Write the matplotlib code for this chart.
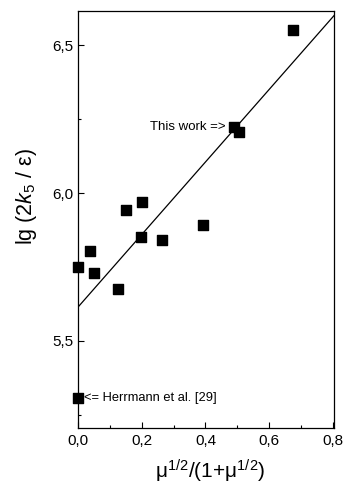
import matplotlib
matplotlib.use("Agg")
import matplotlib.pyplot as plt
from matplotlib.ticker import MultipleLocator, FuncFormatter

plt.rcParams['font.family'] = ['Liberation Sans', 'DejaVu Sans']
plt.rcParams['mathtext.fontset'] = 'custom'
plt.rcParams['mathtext.rm'] = 'Liberation Sans'
plt.rcParams['mathtext.it'] = 'Liberation Sans:italic'
plt.rcParams['mathtext.bf'] = 'Liberation Sans:bold'

# ionic-strength function vs. lg(2k5/eps)
x_vals = [0.0, 0.0386, 0.051, 0.125, 0.151, 0.200, 0.198, 0.264, 0.393, 0.491, 0.506, 0.675]
y_vals = [5.751, 5.804, 5.730, 5.676, 5.943, 5.969, 5.851, 5.840, 5.892, 6.224, 6.205, 6.553]
herrmann_x = [0.0]
herrmann_y = [5.308]

# linear fit line
fit_x = [0.0, 0.804]
fit_y = [5.614, 6.601]

fig = plt.figure(figsize=(3.45, 4.87), dpi=100)
ax = fig.add_axes([0.226, 0.121, 0.741, 0.856])

ax.plot(fit_x, fit_y, color='black', lw=0.9, zorder=2)
ax.scatter(x_vals, y_vals, marker='s', s=42, color='black', zorder=3, clip_on=False)
ax.scatter(herrmann_x, herrmann_y, marker='s', s=42, color='black', zorder=3, clip_on=False)

ax.text(0.462, 6.224, 'This work =>', fontsize=9.5, ha='right', va='center')
ax.text(0.018, 5.308, '<= Herrmann et al. [29]', fontsize=9.3, ha='left', va='center')

ax.set_xlim(0.0, 0.802)
ax.set_ylim(5.205, 6.615)

ax.xaxis.set_major_locator(MultipleLocator(0.2))
ax.xaxis.set_minor_locator(MultipleLocator(0.1))
ax.yaxis.set_major_locator(MultipleLocator(0.5))
ax.yaxis.set_minor_locator(MultipleLocator(0.25))

ax.xaxis.set_major_formatter(FuncFormatter(lambda v, p: f'{v:.1f}'.replace('.', ',')))
ax.yaxis.set_major_formatter(FuncFormatter(lambda v, p: f'{v:.1f}'.replace('.', ',')))

ax.tick_params(which='both', direction='in', top=False, right=False, labelsize=11, width=0.8)
ax.tick_params(axis='y', which='major', length=4, pad=3)
ax.tick_params(axis='x', which='major', length=4, pad=4)
ax.tick_params(which='minor', length=2.5)

for sp in ax.spines.values():
    sp.set_linewidth(0.9)

ax.set_ylabel(r'lg (2$\mathit{k}_5$ / ε)', fontsize=15.5, va='center')
ax.yaxis.set_label_coords(-0.2, 0.556)
ax.set_xlabel(r'μ$^{1/2}$/(1+μ$^{1/2}$)', fontsize=15, va='center')
ax.xaxis.set_label_coords(0.517, -0.103)

fig.savefig('out.png', dpi=100)
